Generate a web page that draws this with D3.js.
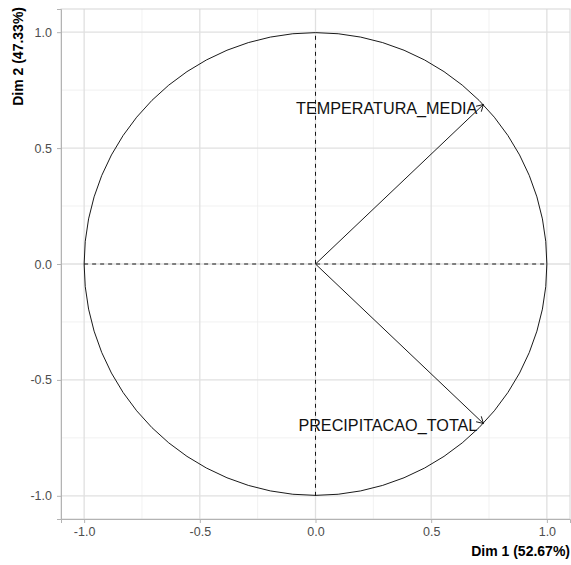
<!DOCTYPE html>
<html>
<head>
<meta charset="utf-8">
<script src="https://cdn.jsdelivr.net/npm/d3@7"></script>
<style>
  body { margin: 0; background: #fff; }
  svg { display: block; font-family: "Liberation Sans", Arial, sans-serif; }
</style>
</head>
<body>
<svg id="chart" width="571" height="565"></svg>
<script>
// Variable correlation circle (PCA)
const variables = ["TEMPERATURA_MEDIA", "PRECIPITACAO_TOTAL"];
const dim1 = [0.7257, 0.7257];
const dim2 = [0.688, -0.688];
const tickValues = [-1.0, -0.5, 0.0, 0.5, 1.0];
const tickLabels = ["-1.0", "-0.5", "0.0", "0.5", "1.0"];
const minorValues = [-0.75, -0.25, 0.25, 0.75];
const axisTitles = ["Dim 1 (52.67%)", "Dim 2 (47.33%)"];

(function () {
const svg = d3.select("#chart");
const pLeft = 61, pRight = 570, pTop = 9, pBottom = 519;

const x = d3.scaleLinear().domain([-1.1, 1.1]).range([pLeft, pRight]);
const y = d3.scaleLinear().domain([-1.1, 1.1]).range([pBottom, pTop]);

// grid
const grid = svg.append("g");
grid.selectAll(".mx").data(minorValues).join("line")
  .attr("x1", d => x(d)).attr("x2", d => x(d)).attr("y1", pTop).attr("y2", pBottom)
  .attr("stroke", "#ededed").attr("stroke-width", 0.8);
grid.selectAll(".my").data(minorValues).join("line")
  .attr("y1", d => y(d)).attr("y2", d => y(d)).attr("x1", pLeft).attr("x2", pRight)
  .attr("stroke", "#ededed").attr("stroke-width", 0.8);
grid.selectAll(".gx").data(tickValues).join("line")
  .attr("x1", d => x(d)).attr("x2", d => x(d)).attr("y1", pTop).attr("y2", pBottom)
  .attr("stroke", "#e0e0e0").attr("stroke-width", 1.3);
grid.selectAll(".gy").data(tickValues).join("line")
  .attr("y1", d => y(d)).attr("y2", d => y(d)).attr("x1", pLeft).attr("x2", pRight)
  .attr("stroke", "#e0e0e0").attr("stroke-width", 1.3);

// panel border
svg.append("rect").attr("x", pLeft).attr("y", pTop)
  .attr("width", pRight - pLeft).attr("height", pBottom - pTop)
  .attr("fill", "none").attr("stroke", "#d6d6d6").attr("stroke-width", 1);

// axes
const fmt = (d) => tickLabels[tickValues.indexOf(d)];
const xAxis = svg.append("g").attr("transform", `translate(0,${pBottom})`)
  .call(d3.axisBottom(x).tickValues(tickValues).tickFormat(fmt).tickSize(4).tickPadding(4));
const yAxis = svg.append("g").attr("transform", `translate(${pLeft},0)`)
  .call(d3.axisLeft(y).tickValues(tickValues).tickFormat(fmt).tickSize(4).tickPadding(5));
[xAxis, yAxis].forEach(a => {
  a.select(".domain").attr("stroke", "#b3b3b3");
  a.selectAll(".tick line").attr("stroke", "#b3b3b3");
  a.selectAll(".tick text").attr("fill", "#4d4d4d")
    .style("font-size", "12.5px").style("font-family", "Liberation Sans, Arial, sans-serif");
});

// unit circle
const plot = svg.append("g");
plot.append("circle")
  .attr("cx", x(0)).attr("cy", y(0)).attr("r", x(1) - x(0))
  .attr("fill", "none").attr("stroke", "#000").attr("stroke-width", 0.9);

// dashed reference lines
plot.append("line").attr("x1", x(-1)).attr("x2", x(1)).attr("y1", y(0)).attr("y2", y(0))
  .attr("stroke", "#000").attr("stroke-width", 0.9).attr("stroke-dasharray", "4,4");
plot.append("line").attr("x1", x(0)).attr("x2", x(0)).attr("y1", y(-1)).attr("y2", y(1))
  .attr("stroke", "#000").attr("stroke-width", 0.9).attr("stroke-dasharray", "4,4");

// arrows
const rows = variables.map((v, i) => ({ name: v, d1: dim1[i], d2: dim2[i] }));
const head = 7.5, ang = Math.PI / 6;
rows.forEach(r => {
  const x0 = x(0), y0 = y(0), x1 = x(r.d1), y1 = y(r.d2);
  const th = Math.atan2(y1 - y0, x1 - x0);
  const p = d3.path();
  p.moveTo(x0, y0); p.lineTo(x1, y1);
  p.moveTo(x1 - head * Math.cos(th - ang), y1 - head * Math.sin(th - ang));
  p.lineTo(x1, y1);
  p.lineTo(x1 - head * Math.cos(th + ang), y1 - head * Math.sin(th + ang));
  plot.append("path").attr("d", p.toString())
    .attr("fill", "none").attr("stroke", "#000").attr("stroke-width", 0.9);
});

// labels
plot.selectAll(".lbl").data(rows).join("text")
  .attr("x", d => x(d.d1) - 6)
  .attr("y", d => y(d.d2) + (d.d2 > 0 ? 9 : 8))
  .attr("text-anchor", "end")
  .attr("fill", "#111")
  .style("font-size", "16.2px")
  .text(d => d.name);

// axis titles
svg.append("text").attr("x", pRight).attr("y", 556)
  .attr("text-anchor", "end").attr("font-weight", "bold")
  .style("font-size", "14px").attr("fill", "#000")
  .text(axisTitles[0]);
svg.append("text").attr("transform", `translate(22.5,${pTop - 2}) rotate(-90)`)
  .attr("text-anchor", "end").attr("font-weight", "bold")
  .style("font-size", "14px").attr("fill", "#000")
  .text(axisTitles[1]);
})();
</script>
</body>
</html>
